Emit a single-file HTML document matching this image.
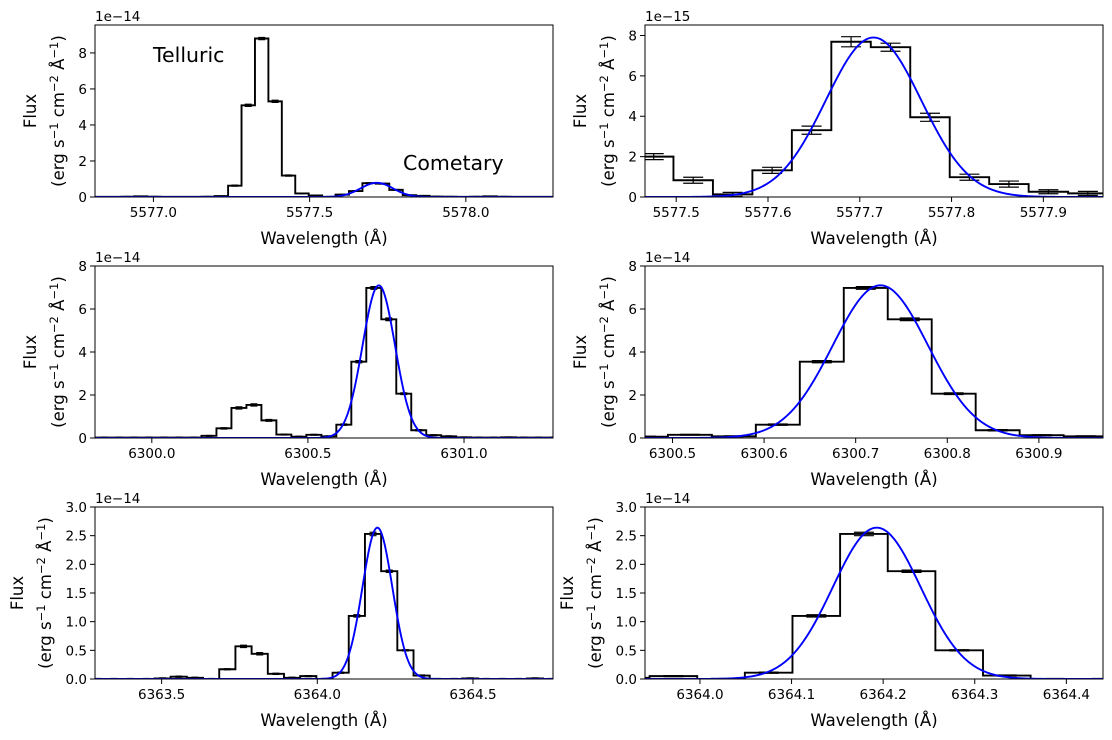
<!DOCTYPE html>
<html><head><meta charset="utf-8"><style>
html,body{margin:0;padding:0;background:#fff;}
svg{display:block;font-family:"DejaVu Sans","Liberation Sans",sans-serif;}
</style></head><body>
<svg id="fig" width="1112" height="740" viewBox="0 0 1112 740" xmlns="http://www.w3.org/2000/svg">
<rect width="1112" height="740" fill="#fff"/>
</svg>
<script>
// ---- Row 1: 5577 Å line, flux in units of 1e-15 ----
const row1Start = 5576.809;
const row1Width = 0.043;
const row1Values = [0.1,0.1,0.2,0.4,0.2,0.1,0.1,0.1,0.2,0.5,6.3,50.9,88.0,53.1,11.9,2.0,0.83,0.13,1.32,3.31,7.69,7.42,3.95,0.98,0.64,0.26,0.18,0.1,0.2,0.4,0.2,0.1,0.1,0.1,0.1];
const row1Errors = [0.1,0.1,0.1,0.1,0.1,0.1,0.1,0.1,0.1,0.1,0.3,0.6,0.6,0.6,0.3,0.15,0.15,0.1,0.15,0.2,0.25,0.2,0.2,0.15,0.15,0.1,0.1,0.1,0.1,0.1,0.1,0.1,0.1,0.1,0.1];
const row1Gauss = [5577.715, 7.9, 0.052];
// ---- Row 2: 6300 Å line, flux in units of 1e-14 ----
const row2Start = 6299.775;
const row2Width = 0.048;
const row2Values = [0.02,0.02,0.02,0.02,0.02,0.02,0.02,0.02,0.1,0.45,1.4,1.54,0.82,0.16,0.06,0.15,0.08,0.62,3.55,6.98,5.52,2.06,0.36,0.13,0.08,0.03,0.02,0.02,0.03,0.02,0.02,0.02];
const row2Errors = [0.02,0.02,0.02,0.02,0.02,0.02,0.02,0.02,0.02,0.03,0.05,0.05,0.04,0.02,0.02,0.02,0.02,0.03,0.05,0.06,0.06,0.04,0.03,0.02,0.02,0.02,0.02,0.02,0.02,0.02,0.02,0.02];
const row2Gauss = [6300.727, 7.1, 0.052];
// ---- Row 3: 6364 Å line, flux in units of 1e-14 ----
const row3Start = 6363.269;
const row3Width = 0.052;
const row3Values = [0,0,0,0,0.01,0.04,0.02,0,0.17,0.57,0.44,0.09,0.02,0.05,0,0.11,1.1,2.53,1.88,0.5,0.06,0,0,0.01,0,0,0,0.01,0];
const row3Errors = [0.01,0.01,0.01,0.01,0.01,0.01,0.01,0.01,0.01,0.02,0.02,0.01,0.01,0.01,0.01,0.01,0.02,0.03,0.02,0.01,0.01,0.01,0.01,0.01,0.01,0.01,0.01,0.01,0.01];
const row3Gauss = [6364.193, 2.64, 0.048];
// ---- tick labels ----
const p1XTicks = ["5577.0","5577.5","5578.0"];
const p2XTicks = ["5577.5","5577.6","5577.7","5577.8","5577.9"];
const p3XTicks = ["6300.0","6300.5","6301.0"];
const p4XTicks = ["6300.5","6300.6","6300.7","6300.8","6300.9"];
const p5XTicks = ["6363.5","6364.0","6364.5"];
const p6XTicks = ["6364.0","6364.1","6364.2","6364.3","6364.4"];
const yTicksA = ["0","2","4","6","8"];
const yTicksB = ["0.0","0.5","1.0","1.5","2.0","2.5","3.0"];

const NS = "http://www.w3.org/2000/svg";
const fig = document.getElementById('fig');
function mk(tag, attrs, parent){
  const e = document.createElementNS(NS, tag);
  for (const k in attrs) e.setAttribute(k, attrs[k]);
  (parent||fig).appendChild(e);
  return e;
}
const panels = [
  {id:'p1', x0:95, x1:553, y0:25, y1:197, xd:[5576.813,5578.279], yd:[0,9.55], start:row1Start, w:row1Width, vals:row1Values, errs:row1Errors, g:row1Gauss, scale:0.1, xt:p1XTicks, yt:yTicksA, off:"1e\u221214", cap:3.5, labx:30},
  {id:'p2', x0:645, x1:1103, y0:25, y1:197, xd:[5577.466,5577.965], yd:[0,8.52], start:row1Start, w:row1Width, vals:row1Values, errs:row1Errors, g:row1Gauss, scale:1, xt:p2XTicks, yt:yTicksA, off:"1e\u221215", cap:10, labx:580},
  {id:'p3', x0:95, x1:553, y0:266, y1:438, xd:[6299.818,6301.285], yd:[0,8], start:row2Start, w:row2Width, vals:row2Values, errs:row2Errors, g:row2Gauss, scale:1, xt:p3XTicks, yt:yTicksA, off:"1e\u221214", cap:3.5, labx:30},
  {id:'p4', x0:645, x1:1103, y0:266, y1:438, xd:[6300.470,6300.970], yd:[0,8], start:row2Start, w:row2Width, vals:row2Values, errs:row2Errors, g:row2Gauss, scale:1, xt:p4XTicks, yt:yTicksA, off:"1e\u221214", cap:10, labx:580},
  {id:'p5', x0:95, x1:553, y0:507, y1:679, xd:[6363.286,6364.757], yd:[0,3], start:row3Start, w:row3Width, vals:row3Values, errs:row3Errors, g:row3Gauss, scale:1, xt:p5XTicks, yt:yTicksB, off:"1e\u221214", cap:3.5, labx:17},
  {id:'p6', x0:645, x1:1103, y0:507, y1:679, xd:[6363.940,6364.440], yd:[0,3], start:row3Start, w:row3Width, vals:row3Values, errs:row3Errors, g:row3Gauss, scale:1, xt:p6XTicks, yt:yTicksB, off:"1e\u221214", cap:10, labx:567}
];
const defs = mk('defs', {});
panels.forEach(p => {
  const X = v => p.x0 + (v - p.xd[0]) / (p.xd[1]-p.xd[0]) * (p.x1-p.x0);
  const Y = v => p.y1 - (v - p.yd[0]) / (p.yd[1]-p.yd[0]) * (p.y1-p.y0);
  const cp = mk('clipPath', {id:'clip-'+p.id}, defs);
  mk('rect', {x:p.x0, y:p.y0-1, width:p.x1-p.x0, height:p.y1-p.y0+1}, cp);
  const g = mk('g', {});
  
  
  const plot = mk('g', {'clip-path':'url(#clip-'+p.id+')'}, g);
  p.vals.forEach((v,i) => {
    const c = p.start + (i+0.5)*p.w;
    const e = p.errs[i];
    const xc = X(c), ya = Y((v-e)*p.scale), yb = Y((v+e)*p.scale);
    const eb = mk('path', {d:`M${xc},${ya}V${yb}M${xc-p.cap},${ya}H${xc+p.cap}M${xc-p.cap},${yb}H${xc+p.cap}`, stroke:'#000', 'stroke-width':1.2, fill:'none'}, plot);
    
    
  });
  let d = `M${X(p.start)},${Y(p.vals[0]*p.scale)}`;
  p.vals.forEach((v,i) => {
    d += `H${X(p.start+(i+1)*p.w)}`;
    if (i+1 < p.vals.length) d += `V${Y(p.vals[i+1]*p.scale)}`;
  });
  const st = mk('path', {d:d, stroke:'#000', 'stroke-width':1.9, fill:'none'}, plot);
  
  
  let gd = '';
  for (let k=0;k<=500;k++){
    const lam = p.xd[0] + (p.xd[1]-p.xd[0])*k/500;
    const f = p.g[1]*Math.exp(-Math.pow(lam-p.g[0],2)/(2*p.g[2]*p.g[2]))*p.scale;
    gd += (k?'L':'M') + X(lam).toFixed(2) + ',' + Y(f).toFixed(2);
  }
  const gl = mk('path', {d:gd, stroke:'#0000ff', 'stroke-width':1.9, fill:'none'}, plot);
  
  
  const fr = mk('rect', {x:p.x0, y:p.y0, width:p.x1-p.x0, height:p.y1-p.y0, fill:'none', stroke:'#000', 'stroke-width':1}, g);
  
  
  p.xt.forEach(t => {
    const x = X(parseFloat(t));
    mk('line', {x1:x, x2:x, y1:p.y1, y2:p.y1+5, stroke:'#000', 'stroke-width':1}, g);
    const tx = mk('text', {x:x, y:p.y1+20, 'font-size':13.5, 'text-anchor':'middle', fill:'#000'}, g);
    tx.textContent = t;
    
    
  });
  p.yt.forEach(t => {
    const y = Y(parseFloat(t));
    mk('line', {x1:p.x0-5, x2:p.x0, y1:y, y2:y, stroke:'#000', 'stroke-width':1}, g);
    const ty = mk('text', {x:p.x0-8, y:y+5, 'font-size':13.5, 'text-anchor':'end', fill:'#000'}, g);
    ty.textContent = t;
    
    
  });
  const off = mk('text', {x:p.x0, y:p.y0-4, 'font-size':13.5, fill:'#000'}, g);
  off.textContent = p.off;
  
  
  const xl = mk('text', {x:(p.x0+p.x1)/2, y:p.y1+47, 'font-size':16.5, 'text-anchor':'middle', fill:'#000'}, g);
  xl.textContent = 'Wavelength (\u00c5)';
  
  
  const cy = (p.y0+p.y1)/2;
  const yl = mk('text', {transform:`translate(${p.labx+6},${cy}) rotate(-90)`, 'font-size':16.5, 'text-anchor':'middle', fill:'#000'}, g);
  
  
  const t1 = mk('tspan', {x:0, y:0}, yl); t1.textContent = 'Flux';
  const t2 = mk('tspan', {x:0, y:28}, yl);
  t2.innerHTML = '(erg s<tspan dy="-6" font-size="11.5">\u22121</tspan><tspan dy="6"> cm</tspan><tspan dy="-6" font-size="11.5">\u22122</tspan><tspan dy="6"> \u00c5</tspan><tspan dy="-6" font-size="11.5">\u22121</tspan><tspan dy="6">)</tspan>';
});
const tl = mk('text', {x:153, y:62, 'font-size':20.5, fill:'#000'});
tl.textContent = 'Telluric';


const cm = mk('text', {x:403, y:170, 'font-size':20.5, fill:'#000'});
cm.textContent = 'Cometary';


</script>
</body></html>
